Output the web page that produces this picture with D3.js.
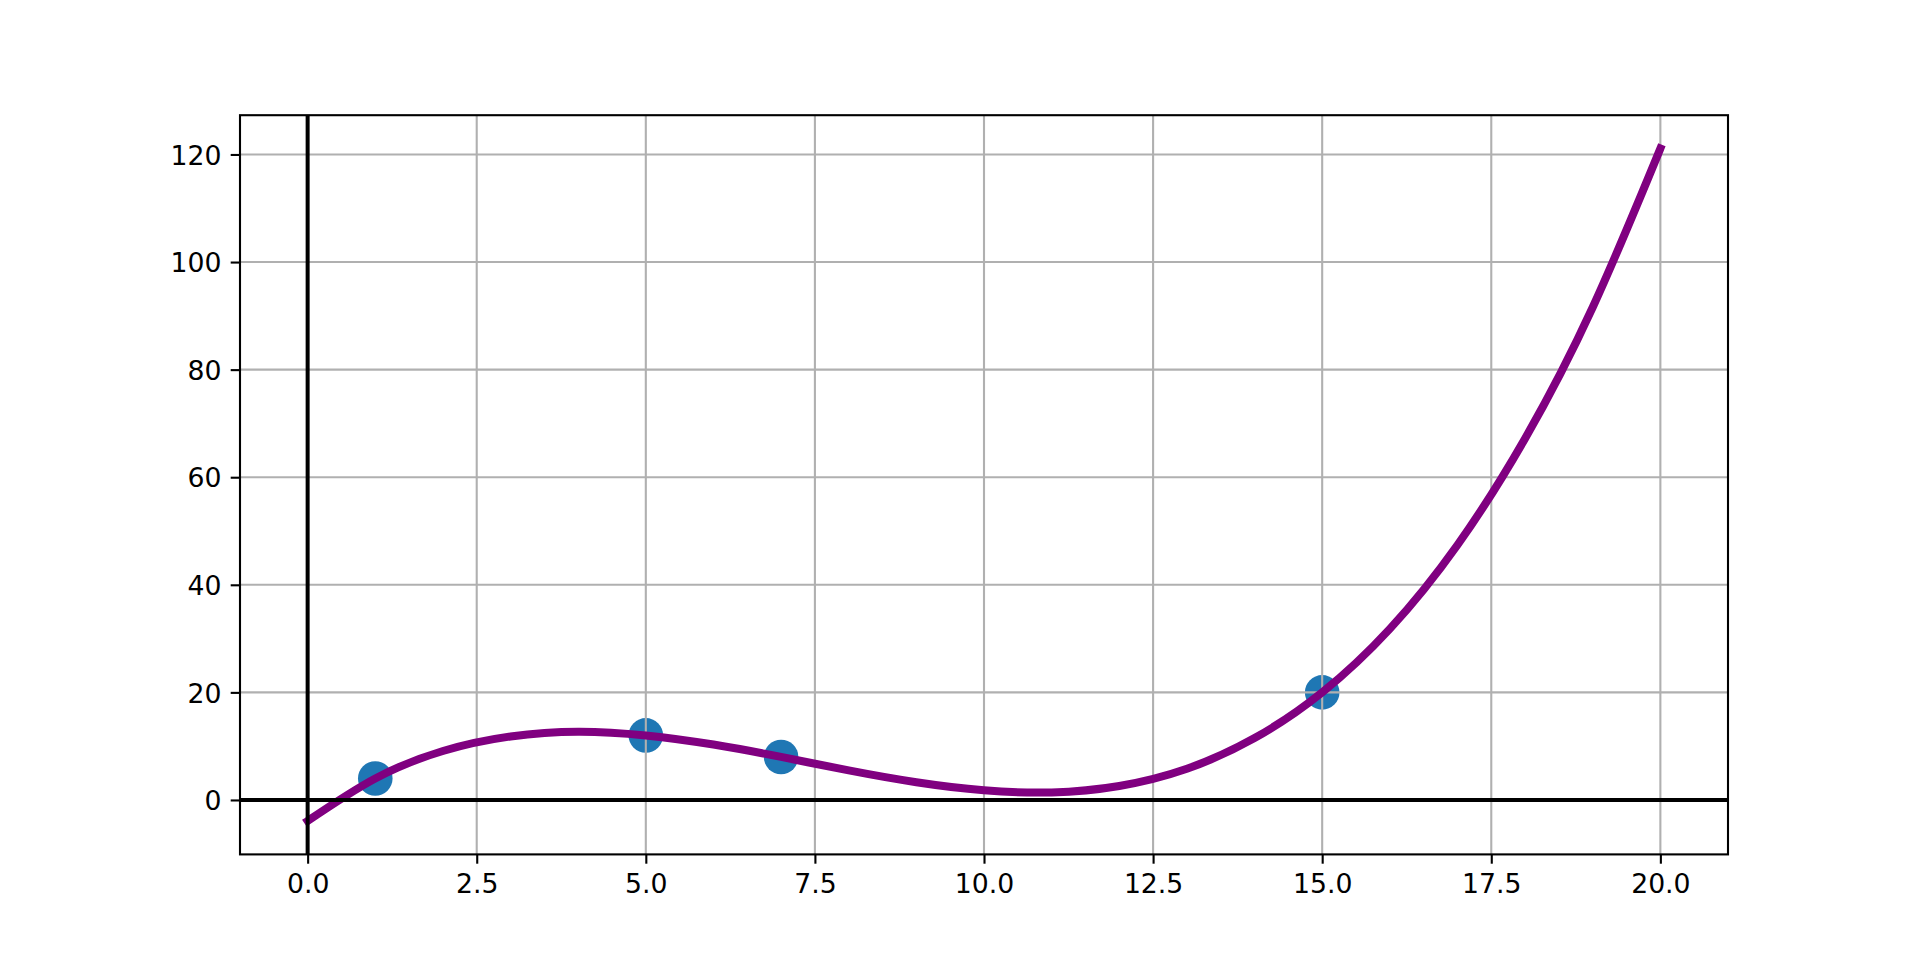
<!DOCTYPE html>
<html>
<head>
<meta charset="utf-8">
<script src="https://cdn.jsdelivr.net/npm/d3@7"></script>
<style>
html,body{margin:0;padding:0;background:#fff;}
svg{display:block;}
text{font-family:"DejaVu Sans",sans-serif;}
</style>
</head>
<body>
<svg id="chart" width="1920" height="960"></svg>
<script>
// data points (scatter)
const pointX = [1, 5, 7, 15];
const pointY = [4, 12, 8, 20];
// fitted curve, values
const curveX = [0,1,2,3,4,5,6,7,8,9,10,11,12,13,14,15,16,17,18,19,20];
const curveY = [-3.9,4.0,9.1,11.8,12.7,12.0,10.3,8.0,5.5,3.3,1.8,1.4,2.6,5.8,11.5,20.0,31.8,47.4,67.2,91.6,121.1];
// ticks
const xTicks = [0,2.5,5,7.5,10,12.5,15,17.5,20];
const yTicks = [0,20,40,60,80,100,120];

const svg = d3.select("#chart");
const L = 240, R = 1728, T = 115.2, B = 854.4;
const x = d3.scaleLinear().domain([-1, 21]).range([L, R]);
const y = d3.scaleLinear().domain([-10.12, 127.3]).range([B, T]);

const clipId = "plotclip";
svg.append("defs").append("clipPath").attr("id", clipId)
  .append("rect").attr("x", L).attr("y", T).attr("width", R - L).attr("height", B - T);

const plot = svg.append("g").attr("clip-path", `url(#${clipId})`);

// scatter (below grid)
plot.append("g").selectAll("circle").data(pointX).join("circle")
  .attr("cx", (d) => x(d))
  .attr("cy", (d, i) => y(pointY[i]))
  .attr("r", 17.3)
  .attr("fill", "#1f77b4");

// grid
const grid = plot.append("g").attr("stroke", "#b0b0b0").attr("stroke-width", 2.1);
grid.selectAll("line.gx").data(xTicks).join("line").attr("class", "gx")
  .attr("x1", (d) => x(d)).attr("x2", (d) => x(d)).attr("y1", T).attr("y2", B);
grid.selectAll("line.gy").data(yTicks).join("line").attr("class", "gy")
  .attr("y1", (d) => y(d)).attr("y2", (d) => y(d)).attr("x1", L).attr("x2", R);

// curve
const line = d3.line().x((d) => x(d)).y((d, i) => y(curveY[i])).curve(d3.curveNatural);
plot.append("path").datum(curveX).attr("d", line)
  .attr("fill", "none").attr("stroke", "purple").attr("stroke-width", 8)
  .attr("stroke-linecap", "square");

// axhline / axvline
plot.append("line").attr("x1", L).attr("x2", R).attr("y1", y(0)).attr("y2", y(0))
  .attr("stroke", "#000").attr("stroke-width", 4);
plot.append("line").attr("x1", x(0)).attr("x2", x(0)).attr("y1", T).attr("y2", B)
  .attr("stroke", "#000").attr("stroke-width", 4);

// axes via d3
const fmtX = d3.format(".1f");
const xAxis = d3.axisBottom(x).tickValues(xTicks).tickFormat(fmtX).tickSize(9.3).tickPadding(9.3);
const yAxis = d3.axisLeft(y).tickValues(yTicks).tickFormat(d3.format("d")).tickSize(9.3).tickPadding(9.3);

const gx = svg.append("g").attr("transform", `translate(0,${B})`).call(xAxis);
const gy = svg.append("g").attr("transform", `translate(${L},0)`).call(yAxis);
[gx, gy].forEach((g) => {
  g.select(".domain").remove();
  g.selectAll(".tick line").attr("stroke", "#000").attr("stroke-width", 2.1);
  g.selectAll(".tick text").attr("fill", "#000").attr("font-size", 26.7)
    .attr("font-family", "DejaVu Sans");
});
gx.selectAll(".tick text").attr("dy", "0.76em");
gy.selectAll(".tick text").attr("dy", "0.36em");

// spines
svg.append("rect").attr("x", L).attr("y", T).attr("width", R - L).attr("height", B - T)
  .attr("fill", "none").attr("stroke", "#000").attr("stroke-width", 2.1);
</script>
</body>
</html>
